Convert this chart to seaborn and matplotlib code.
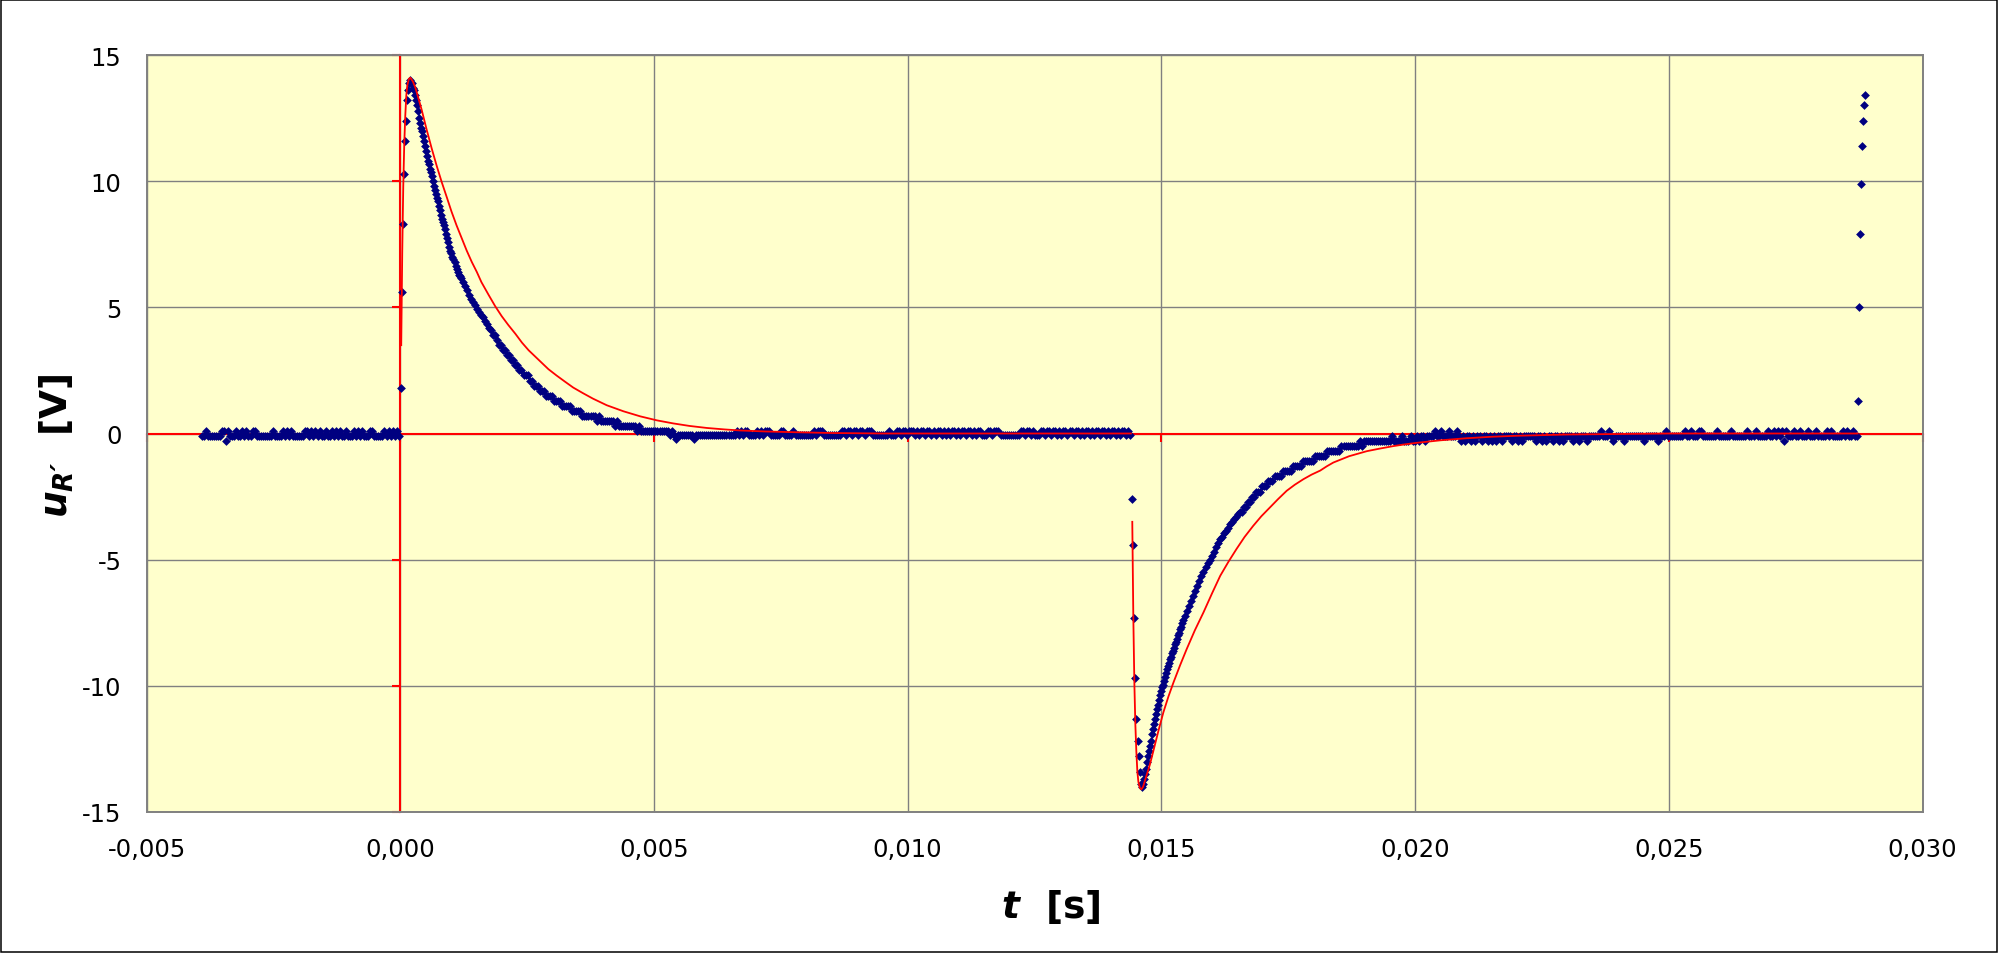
import numpy as np
import pandas as pd
import matplotlib
matplotlib.use("Agg")
import matplotlib.pyplot as plt
from matplotlib.patches import Rectangle
import seaborn as sns

# --- measured samples, u in volts; sample times from segment start + step ---
PRE_START, PRE_STEP = -0.00391, 0.00004
U_PRE = [
    -0.1, -0.1, 0.1, -0.1, -0.1, -0.1, -0.1, -0.1, -0.1, -0.1,
    0.1, 0.1, -0.3, 0.1, -0.1, -0.1, -0.1, 0.1, -0.1, -0.1,
    0.1, -0.1, 0.1, -0.1, -0.1, 0.1, 0.1, -0.1, -0.1, -0.1,
    -0.1, -0.1, -0.1, -0.1, -0.1, 0.1, -0.1, -0.1, -0.1, -0.1,
    0.1, -0.1, 0.1, -0.1, 0.1, -0.1, -0.1, -0.1, -0.1, -0.1,
    -0.1, 0.1, 0.1, -0.1, 0.1, -0.1, 0.1, -0.1, 0.1, -0.1,
    -0.1, 0.1, -0.1, -0.1, 0.1, -0.1, 0.1, -0.1, 0.1, -0.1,
    -0.1, 0.1, -0.1, -0.1, -0.1, 0.1, -0.1, 0.1, -0.1, 0.1,
    -0.1, -0.1, -0.1, 0.1, 0.1, -0.1, -0.1, -0.1, -0.1, -0.1,
    0.1, -0.1, 0.1, -0.1, 0.1, -0.1, 0.1, -0.1,
]

PULSE1_FAST_START, PULSE1_FAST_STEP = 0.00001, 0.00002
U_PULSE1_FAST = [
    1.8, 5.6, 8.3, 10.3, 11.6, 12.4, 13.2, 13.6, 13.9, 14.0,
    13.9, 13.9, 13.7, 13.6, 13.4, 13.2, 13.0, 12.8, 12.5, 12.3,
    12.1, 12.0, 11.8, 11.6, 11.4, 11.2, 11.0, 10.8, 10.7, 10.5,
    10.35, 10.2, 10.0, 9.8, 9.65, 9.5, 9.35, 9.2, 9.0, 8.85,
    8.65, 8.5, 8.4, 8.25, 8.1, 7.9, 7.75, 7.6, 7.4, 7.25,
    7.15, 7.0, 6.9, 6.8, 6.65, 6.5, 6.4, 6.3, 6.25, 6.15,
]

PULSE1_SLOW_START, PULSE1_SLOW_STEP = 0.00123, 0.00004
U_PULSE1_SLOW = [
    6.0, 5.85, 5.7, 5.5, 5.35, 5.2, 5.1, 4.95, 4.8, 4.7,
    4.6, 4.45, 4.35, 4.2, 4.1, 3.9, 3.9, 3.7, 3.5, 3.5,
    3.3, 3.3, 3.1, 3.1, 2.9, 2.9, 2.7, 2.7, 2.5, 2.5,
    2.3, 2.3, 2.3, 2.1, 2.1, 1.9, 1.9, 1.9, 1.7, 1.7,
    1.7, 1.5, 1.5, 1.5, 1.5, 1.3, 1.3, 1.3, 1.3, 1.1,
    1.1, 1.1, 1.1, 1.1, 0.9, 0.9, 0.9, 0.9, 0.9, 0.7,
    0.7, 0.7, 0.7, 0.7, 0.7, 0.7, 0.5, 0.7, 0.5, 0.5,
    0.5, 0.5, 0.5, 0.5, 0.5, 0.3, 0.5, 0.3, 0.3, 0.3,
    0.3, 0.3, 0.3, 0.3, 0.3, 0.3, 0.1, 0.3, 0.1, 0.1,
    0.1, 0.1, 0.1, 0.1, 0.1, 0.1, 0.1, 0.1, 0.1, 0.1,
    0.1, 0.1, -0.05, 0.1, -0.05, -0.2, -0.05,
]

MID_START, MID_STEP = 0.00551, 0.00004
U_MID = [
    -0.05, -0.05, -0.05, -0.05, -0.05, -0.05, -0.05, -0.2, -0.05, -0.05,
    -0.05, -0.05, -0.05, -0.05, -0.05, -0.05, -0.05, -0.05, -0.05, -0.05,
    -0.05, -0.05, -0.05, -0.05, -0.05, -0.05, -0.05, -0.05, 0.1, -0.05,
    0.1, -0.05, 0.1, 0.1, -0.05, -0.05, -0.05, -0.05, 0.1, -0.05,
    0.1, -0.05, 0.1, 0.1, 0.1, -0.05, -0.05, -0.05, -0.05, -0.05,
    0.1, 0.1, -0.05, -0.05, -0.05, -0.05, 0.1, -0.05, -0.05, -0.05,
    -0.05, -0.05, -0.05, -0.05, -0.05, -0.05, 0.1, -0.05, 0.1, 0.1,
    0.1, -0.05, -0.05, -0.05, -0.05, -0.05, -0.05, -0.05, -0.05, -0.05,
    0.1, 0.1, -0.05, 0.1, 0.1, -0.05, 0.1, 0.1, -0.05, 0.1,
    0.1, -0.05, 0.1, 0.1, 0.1, -0.05, -0.05, -0.05, -0.05, -0.05,
    -0.05, -0.05, -0.05, 0.1, -0.05, -0.05, -0.05, 0.1, 0.1, -0.05,
    0.1, 0.1, -0.05, 0.1, 0.1, 0.1, -0.05, 0.1, -0.05, 0.1,
    0.1, -0.05, 0.1, 0.1, -0.05, 0.1, -0.05, 0.1, 0.1, -0.05,
    0.1, -0.05, 0.1, -0.05, 0.1, 0.1, -0.05, 0.1, -0.05, 0.1,
    0.1, -0.05, 0.1, 0.1, -0.05, 0.1, -0.05, 0.1, 0.1, -0.05,
    -0.05, -0.05, 0.1, 0.1, -0.05, 0.1, 0.1, 0.1, -0.05, -0.05,
    -0.05, -0.05, -0.05, -0.05, -0.05, -0.05, -0.05, -0.05, 0.1, 0.1,
    -0.05, 0.1, 0.1, -0.05, 0.1, -0.05, -0.05, -0.05, 0.1, 0.1,
    -0.05, 0.1, 0.1, -0.05, 0.1, 0.1, -0.05, 0.1, -0.05, 0.1,
    0.1, -0.05, 0.1, 0.1, -0.05, 0.1, 0.1, -0.05, 0.1, -0.05,
    0.1, 0.1, -0.05, 0.1, -0.05, 0.1, 0.1, -0.05, 0.1, 0.1,
    -0.05, 0.1, -0.05, 0.1, 0.1, -0.05, 0.1, -0.05, 0.1, 0.1,
    -0.05, 0.1, -0.05,
]

PULSE2_FAST_START, PULSE2_FAST_STEP = 0.01443, 0.00002
U_PULSE2_FAST = [
    -2.6, -4.4, -7.3, -9.7, -11.3, -12.2, -12.8, -13.4, -13.9, -14.0,
    -13.9, -13.7, -13.5, -13.3, -13.0, -12.8, -12.6, -12.4, -12.2, -11.9,
    -11.7, -11.5, -11.3, -11.1, -10.9, -10.75, -10.55, -10.35, -10.2, -10.05,
    -9.95, -9.8, -9.65, -9.5, -9.35, -9.2, -9.1, -8.95, -8.85, -8.7,
    -8.6, -8.5, -8.35, -8.25, -8.15, -8.0, -7.9, -7.75, -7.65, -7.5,
    -7.4,
]

PULSE2_SLOW_START, PULSE2_SLOW_STEP = 0.01547, 0.00004
U_PULSE2_SLOW = [
    -7.25, -7.05, -6.85, -6.65, -6.45, -6.25, -6.05, -5.85, -5.65, -5.5,
    -5.3, -5.15, -5.0, -4.85, -4.7, -4.5, -4.35, -4.2, -4.1, -3.95,
    -3.85, -3.75, -3.6, -3.5, -3.4, -3.3, -3.2, -3.1, -3.1, -2.9,
    -2.9, -2.7, -2.7, -2.5, -2.5, -2.3, -2.3, -2.3, -2.1, -2.1,
    -2.1, -1.9, -1.9, -1.9, -1.7, -1.7, -1.7, -1.7, -1.5, -1.5,
    -1.5, -1.5, -1.5, -1.3, -1.3, -1.3, -1.3, -1.3, -1.1, -1.1,
    -1.1, -1.1, -1.1, -1.1, -0.9, -0.9, -0.9, -0.9, -0.9, -0.9,
    -0.7, -0.7, -0.7, -0.7, -0.7, -0.7, -0.7, -0.5, -0.5, -0.5,
    -0.5, -0.5, -0.5, -0.5, -0.5, -0.5, -0.3, -0.5, -0.3, -0.3,
    -0.3, -0.3, -0.3, -0.3, -0.3, -0.3, -0.3, -0.3, -0.3, -0.3,
    -0.3, -0.3, -0.1, -0.3, -0.3, -0.3, -0.3, -0.1, -0.3, -0.3,
    -0.3, -0.1, -0.3, -0.3, -0.1, -0.3, -0.1, -0.1, -0.3, -0.1,
    -0.1, -0.1,
]

POST_START, POST_STEP = 0.02035, 0.00004
U_POST = [
    -0.1, 0.1, -0.1, -0.1, 0.1, -0.1, -0.1, -0.1, 0.1, -0.1,
    -0.1, -0.1, 0.1, -0.1, -0.3, -0.1, -0.3, -0.1, -0.1, -0.3,
    -0.1, -0.3, -0.1, -0.1, -0.3, -0.1, -0.1, -0.3, -0.1, -0.3,
    -0.1, -0.3, -0.1, -0.1, -0.3, -0.1, -0.1, -0.1, -0.1, -0.3,
    -0.1, -0.1, -0.3, -0.1, -0.3, -0.1, -0.1, -0.1, -0.1, -0.1,
    -0.1, -0.3, -0.1, -0.1, -0.3, -0.1, -0.3, -0.1, -0.1, -0.3,
    -0.1, -0.1, -0.3, -0.1, -0.3, -0.1, -0.1, -0.1, -0.1, -0.3,
    -0.1, -0.1, -0.3, -0.1, -0.1, -0.1, -0.3, -0.1, -0.1, -0.1,
    -0.1, -0.1, -0.1, 0.1, -0.1, -0.1, -0.1, 0.1, -0.1, -0.3,
    -0.1, -0.1, -0.1, -0.1, -0.3, -0.1, -0.1, -0.1, -0.1, -0.1,
    -0.1, -0.1, -0.1, -0.1, -0.3, -0.1, -0.1, -0.1, -0.1, -0.1,
    -0.1, -0.3, -0.1, -0.1, -0.1, 0.1, -0.1, -0.1, -0.1, -0.1,
    -0.1, -0.1, -0.1, -0.1, 0.1, -0.1, -0.1, 0.1, -0.1, -0.1,
    -0.1, 0.1, 0.1, -0.1, -0.1, -0.1, -0.1, -0.1, -0.1, -0.1,
    0.1, -0.1, -0.1, -0.1, -0.1, -0.1, -0.1, 0.1, -0.1, -0.1,
    -0.1, -0.1, -0.1, -0.1, -0.1, 0.1, -0.1, -0.1, -0.1, 0.1,
    -0.1, -0.1, -0.1, -0.1, -0.1, 0.1, -0.1, -0.1, 0.1, -0.1,
    0.1, -0.1, 0.1, -0.3, 0.1, -0.1, -0.1, -0.1, 0.1, -0.1,
    -0.1, 0.1, -0.1, -0.1, -0.1, 0.1, -0.1, -0.1, -0.1, 0.1,
    -0.1, -0.1, -0.1, -0.1, 0.1, -0.1, 0.1, -0.1, -0.1, -0.1,
    -0.1, -0.1, 0.1, -0.1, 0.1, -0.1, -0.1, 0.1, -0.1, -0.1,
]

FINAL_START, FINAL_STEP = 0.02873, 0.00002
U_FINAL = [1.3, 5.0, 7.9, 9.9, 11.4, 12.4, 13.0, 13.4]

# --- model curves (red), times in ms ---
T_FIT1_MS = [
    0.02, 0.04, 0.06, 0.08, 0.10, 0.12, 0.14, 0.17, 0.20, 0.25,
    0.30, 0.42, 0.52, 0.62, 0.72, 0.82, 0.92, 1.01, 1.11, 1.21,
    1.31, 1.41, 1.51, 1.60, 1.74, 1.87, 2.00, 2.13, 2.27, 2.40,
    2.53, 2.66, 2.79, 2.92, 3.08, 3.25, 3.41, 3.60, 3.80, 4.07,
    4.40, 4.73, 5.06, 5.38, 5.70, 6.04, 6.40, 6.70, 7.20, 7.80,
    8.50, 9.50, 14.40,
]
U_FIT1 = [
    3.5, 7.2, 9.8, 11.5, 12.6, 13.4, 13.8, 14.05, 14.1, 13.95,
    13.7, 12.85, 12.05, 11.3, 10.6, 9.95, 9.35, 8.8, 8.25, 7.75,
    7.25, 6.8, 6.4, 6.0, 5.5, 5.05, 4.65, 4.3, 3.95, 3.6,
    3.3, 3.05, 2.8, 2.55, 2.3, 2.05, 1.82, 1.6, 1.38, 1.12,
    0.88, 0.68, 0.52, 0.4, 0.3, 0.22, 0.16, 0.12, 0.08, 0.05,
    0.02, 0.0, 0.0,
]
T_FIT2_MS = [
    14.427, 14.447, 14.467, 14.487, 14.507, 14.527, 14.547, 14.577, 14.607, 14.64,
    14.70, 14.77, 14.84, 14.94, 15.04, 15.14, 15.24, 15.37, 15.50, 15.66,
    15.83, 16.00, 16.16, 16.32, 16.48, 16.64, 16.81, 16.97, 17.14, 17.30,
    17.47, 17.63, 17.80, 17.96, 18.13, 18.26, 18.39, 18.70, 19.05, 19.30,
    19.57, 19.80, 20.03, 20.50, 21.00, 21.50, 22.00, 23.00, 24.00, 25.00,
    28.72,
]
U_FIT2 = [
    -3.5, -7.2, -9.8, -11.5, -12.6, -13.4, -13.8, -14.05, -14.1, -14.0,
    -13.6, -13.15, -12.6, -11.8, -11.05, -10.42, -9.86, -9.18, -8.54, -7.8,
    -7.09, -6.33, -5.64, -5.09, -4.58, -4.1, -3.66, -3.28, -2.93, -2.6,
    -2.27, -2.03, -1.81, -1.63, -1.47, -1.3, -1.15, -0.9, -0.7, -0.6,
    -0.5, -0.43, -0.37, -0.27, -0.19, -0.13, -0.09, -0.04, -0.02, 0.0,
    0.0,
]

X_TICKS = [-0.005, 0.0, 0.005, 0.010, 0.015, 0.020, 0.025, 0.030]
X_TICK_LABELS = ["-0,005", "0,000", "0,005", "0,010", "0,015", "0,020", "0,025", "0,030"]
Y_TICKS = [-15, -10, -5, 0, 5, 10, 15]
Y_TICK_LABELS = ["-15", "-10", "-5", "0", "5", "10", "15"]

SEGMENTS = [
    (PRE_START, PRE_STEP, U_PRE),
    (PULSE1_FAST_START, PULSE1_FAST_STEP, U_PULSE1_FAST),
    (PULSE1_SLOW_START, PULSE1_SLOW_STEP, U_PULSE1_SLOW),
    (MID_START, MID_STEP, U_MID),
    (PULSE2_FAST_START, PULSE2_FAST_STEP, U_PULSE2_FAST),
    (PULSE2_SLOW_START, PULSE2_SLOW_STEP, U_PULSE2_SLOW),
    (POST_START, POST_STEP, U_POST),
    (FINAL_START, FINAL_STEP, U_FINAL),
]


def build_samples() -> pd.DataFrame:
    parts = []
    for start, step, values in SEGMENTS:
        t = start + step * np.arange(len(values))
        parts.append(pd.DataFrame({"t": t, "u": values}))
    return pd.concat(parts, ignore_index=True)


def main() -> None:
    plt.rcParams["font.family"] = ["DejaVu Sans"]
    plt.rcParams["mathtext.fontset"] = "custom"
    plt.rcParams["mathtext.it"] = "DejaVu Sans:italic:bold"
    plt.rcParams["mathtext.rm"] = "DejaVu Sans:bold"
    plt.rcParams["mathtext.bf"] = "DejaVu Sans:bold"

    W, H = 1998, 954
    fig = plt.figure(figsize=(W / 100, H / 100), dpi=100)
    pos = [146.5 / W, 141 / H, 1776 / W, 757 / H]
    xlim = (-0.005, 0.030)
    ylim = (-15, 15)

    # background axes: yellow plot area, grid, red axes crossing at zero
    ax_bg = fig.add_axes(pos, zorder=0)
    ax_bg.set_facecolor("#FFFFCC")
    ax_bg.set_xlim(xlim)
    ax_bg.set_ylim(ylim)
    ax_bg.set_xticks(X_TICKS)
    ax_bg.set_yticks(Y_TICKS)
    ax_bg.grid(True, color="#808080", linewidth=1.0)
    ax_bg.set_axisbelow(True)
    for side in ["top", "right"]:
        ax_bg.spines[side].set_visible(False)
    for side in ["left", "bottom"]:
        ax_bg.spines[side].set_position(("data", 0))
        ax_bg.spines[side].set_color("red")
        ax_bg.spines[side].set_linewidth(1.5)
    ax_bg.tick_params(direction="out", length=5.5, width=1.5, color="red",
                      labelleft=False, labelbottom=False)

    # front axes: data, frame and tick labels
    ax = fig.add_axes(pos, zorder=1)
    ax.set_facecolor("none")
    samples = build_samples()
    sns.scatterplot(data=samples, x="t", y="u", marker="D", s=20,
                    color="#000080", linewidth=0, ax=ax, zorder=2)
    fit1 = pd.DataFrame({"t": np.array(T_FIT1_MS) / 1000.0, "u": U_FIT1})
    fit2 = pd.DataFrame({"t": np.array(T_FIT2_MS) / 1000.0, "u": U_FIT2})
    for fit in (fit1, fit2):
        sns.lineplot(data=fit, x="t", y="u", color="red", linewidth=1.3,
                     sort=False, estimator=None, ax=ax, zorder=3)

    ax.set_xlim(xlim)
    ax.set_ylim(ylim)
    ax.set_xticks(X_TICKS)
    ax.set_xticklabels(X_TICK_LABELS)
    ax.set_yticks(Y_TICKS)
    ax.set_yticklabels(Y_TICK_LABELS)
    ax.set_xlabel("")
    ax.set_ylabel("")
    ax.tick_params(axis="x", length=0, pad=18, labelsize=17.5)
    ax.tick_params(axis="y", length=0, pad=18, labelsize=17.5)
    for spine in ax.spines.values():
        spine.set_color("#808080")
        spine.set_linewidth(1.4)

    fig.text(1051 / W, 1 - 907 / H, r"$t$  [s]", fontsize=27, fontweight="bold",
             ha="center", va="center")
    fig.text(57 / W, 1 - 446 / H, r"$u_{R\!´}$  [V]", fontsize=27, fontweight="bold",
             ha="center", va="center", rotation=90)

    fig.add_artist(Rectangle((0.6 / W, 1.2 / H), (W - 2.0) / W, (H - 2.4) / H,
                             transform=fig.transFigure, fill=False,
                             edgecolor="black", linewidth=1.1))

    fig.savefig("out.png", dpi=100)
    plt.close(fig)


if __name__ == "__main__":
    main()
